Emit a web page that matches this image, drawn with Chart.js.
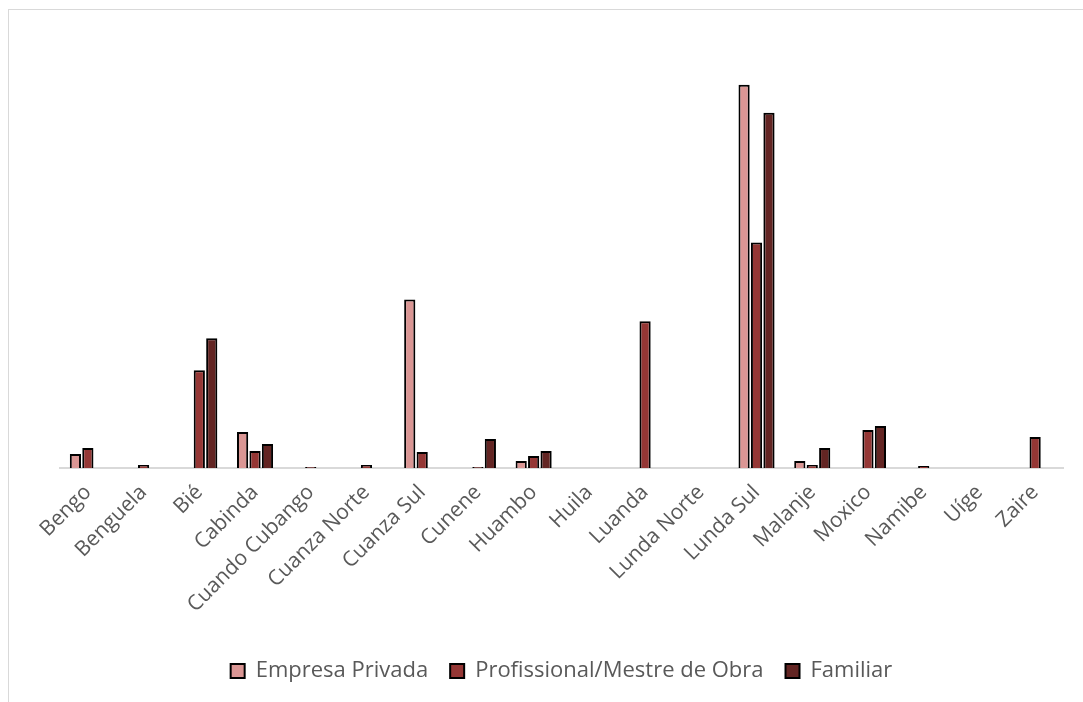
<!DOCTYPE html>
<html>
<head>
<meta charset="utf-8">
<script src="https://cdn.jsdelivr.net/npm/chart.js@4"></script>
<style>
  html, body { margin: 0; padding: 0; background: #fff; }
  body { width: 1083px; height: 702px; position: relative; overflow: hidden; }
  #frame {
    position: absolute; left: 8px; top: 9px; width: 1100px; height: 720px;
    border-left: 1px solid #d9d9d9; border-top: 1px solid #d9d9d9;
  }
  #wrap { position: absolute; left: 0; top: 0; width: 1083px; height: 702px; }
</style>
</head>
<body>
<div id="frame"></div>
<div id="wrap"><canvas id="chart"></canvas></div>
<script>
// Provinces on the category axis
const provinces = ['Bengo', 'Benguela', 'Bié', 'Cabinda', 'Cuando Cubango', 'Cuanza Norte',
  'Cuanza Sul', 'Cunene', 'Huambo', 'Huila', 'Luanda', 'Lunda Norte', 'Lunda Sul',
  'Malanje', 'Moxico', 'Namibe', 'Uíge', 'Zaire'];

// One value per province for each series
const empresaPrivada = [14, 0, 0, 36, 0, 0, 169, 0, 7, 0, 0, 0, 384, 7, 0, 0, 0, 0];
const profissional   = [20, 3, 98, 17, 1, 3, 16, 1, 12, 0, 147, 0, 226, 3, 38, 2, 0, 31];
const familiar       = [0, 0, 130, 24, 0, 0, 0, 29, 17, 0, 0, 0, 356, 20, 42, 0, 0, 0];

const textColor = '#595959';
const fontFamily = '"Open Sans", sans-serif';

function series(label, data, color) {
  return {
    label: label,
    data: data,
    backgroundColor: color,
    borderColor: '#000000',
    borderWidth: 2,
    categoryPercentage: 0.67,
    barPercentage: 0.9
  };
}

new Chart(document.getElementById('chart'), {
  type: 'bar',
  data: {
    labels: provinces,
    datasets: [
      series('Empresa Privada', empresaPrivada, '#DA9694'),
      series('Profissional/Mestre de Obra', profissional, '#953735'),
      series('Familiar', familiar, '#632523')
    ]
  },
  options: {
    responsive: true,
    maintainAspectRatio: false,
    animation: false,
    layout: {
      padding: { top: 29, left: 60, right: 20, bottom: 10 }
    },
    plugins: {
      tooltip: { enabled: false },
      legend: {
        position: 'bottom',
        labels: {
          color: textColor,
          font: { family: fontFamily, size: 22 },
          boxWidth: 14,
          boxHeight: 14,
          padding: 22
        }
      }
    },
    scales: {
      x: {
        grid: { display: false, drawTicks: false },
        border: { display: true, color: '#d9d9d9', width: 2 },
        ticks: {
          color: textColor,
          font: { family: fontFamily, size: 21 },
          minRotation: 45,
          maxRotation: 45,
          autoSkip: false,
          padding: 12
        },
        // fixed band under the axis so the plot keeps the same baseline
        afterFit: (scale) => { scale.height = 170; }
      },
      y: {
        display: false,
        min: 0,
        max: 440
      }
    }
  }
});
</script>
</body>
</html>
